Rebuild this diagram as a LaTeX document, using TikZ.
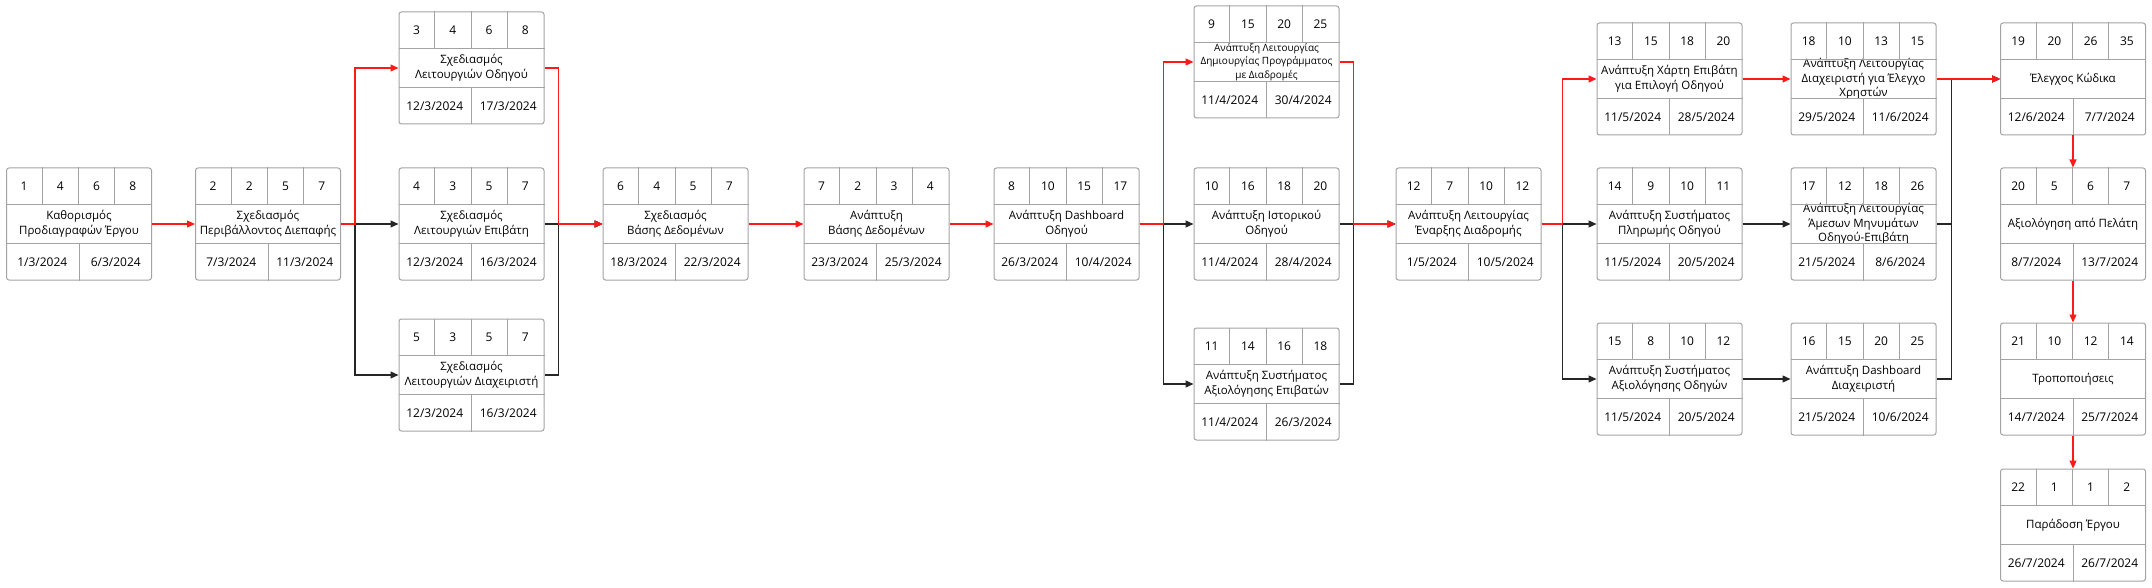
\documentclass[tikz,border=0pt]{standalone}
\usepackage{fontspec}
\setmainfont{Open Sans}
\usepackage{tikz}
\usepackage{xcolor}
\usetikzlibrary{arrows.meta}

\definecolor{cellgray}{HTML}{A3A3A3}
\definecolor{critred}{HTML}{FF1A1A}

\newcommand{\pertbox}[7][]{%
  \node[taskbox,#1] (#2) at (#3) {#5};
  \draw[cellline] ([yshift=-37.3pt]#2.north west) -- ([yshift=-37.3pt]#2.north east);
  \draw[cellline] ([yshift=37.3pt]#2.south west) -- ([yshift=37.3pt]#2.south east);
  \foreach \k in {1,2,3}
    \draw[cellline] ([xshift=\k*36.25pt]#2.north west) -- ([xshift=\k*36.25pt,yshift=-37.3pt]#2.north west);
  \draw[cellline] (#2.south) -- ([yshift=37.3pt]#2.south);
  \foreach \v [count=\k] in {#4}
    \node[celltext] (#2-\k) at ([xshift=\k*36.25pt-18.125pt,yshift=-18.65pt]#2.north west) {\v};
  \node[celltext] (#2-start) at ([xshift=36.25pt,yshift=18.65pt]#2.south west) {#6};
  \node[celltext] (#2-end) at ([xshift=-36.25pt,yshift=18.65pt]#2.south east) {#7};
}

\begin{document}
\begin{tikzpicture}[
    x=1pt, y=-1pt,
    taskbox/.style={
        rectangle,
        draw=cellgray,
        line width=1pt,
        rounded corners=2.5pt,
        minimum width=145pt,
        minimum height=112pt,
        inner sep=0pt,
        align=center,
        font=\fontsize{11.5}{15}\selectfont
    },
    cellline/.style={draw=cellgray, line width=0.9pt},
    celltext/.style={inner sep=0pt, font=\fontsize{12}{14}\selectfont},
    flowarrow/.style={line width=1.2pt, draw=black!85, -{Triangle[length=8pt,width=7pt]}},
    critarrow/.style={flowarrow, draw=critred}
]
\useasboundingbox (0,0) rectangle (2152,588);
\pertbox{spec}{79,224}{1,4,6,8}{Καθορισμός\\Προδιαγραφών Έργου}{1/3/2024}{6/3/2024}
\pertbox{uidesign}{268,224}{2,2,5,7}{Σχεδιασμός\\Περιβάλλοντος Διεπαφής}{7/3/2024}{11/3/2024}
\pertbox{drvdesign}{471.5,68}{3,4,6,8}{Σχεδιασμός\\Λειτουργιών Οδηγού}{12/3/2024}{17/3/2024}
\pertbox{paxdesign}{471.5,224}{4,3,5,7}{Σχεδιασμός\\Λειτουργιών Επιβάτη}{12/3/2024}{16/3/2024}
\pertbox{admdesign}{471.5,375}{5,3,5,7}{Σχεδιασμός\\Λειτουργιών Διαχειριστή}{12/3/2024}{16/3/2024}
\pertbox{dbdesign}{675.5,224}{6,4,5,7}{Σχεδιασμός\\Βάσης Δεδομένων}{18/3/2024}{22/3/2024}
\pertbox{dbdev}{876.5,224}{7,2,3,4}{Ανάπτυξη\\Βάσης Δεδομένων}{23/3/2024}{25/3/2024}
\pertbox{drvdash}{1066.5,224}{8,10,15,17}{Ανάπτυξη Dashboard\\Οδηγού}{26/3/2024}{10/4/2024}
\pertbox[font=\fontsize{10}{13.5}\selectfont]{routeplan}{1266.5,62}{9,15,20,25}{Ανάπτυξη Λειτουργίας\\Δημιουργίας Προγράμματος\\με Διαδρομές}{11/4/2024}{30/4/2024}
\pertbox{drvhistory}{1266.5,224}{10,16,18,20}{Ανάπτυξη Ιστορικού\\Οδηγού}{11/4/2024}{28/4/2024}
\pertbox{paxrating}{1266.5,384}{11,14,16,18}{Ανάπτυξη Συστήματος\\Αξιολόγησης Επιβατών}{11/4/2024}{26/3/2024}
\pertbox{tripstart}{1468.5,224}{12,7,10,12}{Ανάπτυξη Λειτουργίας\\Έναρξης Διαδρομής}{1/5/2024}{10/5/2024}
\pertbox{paxmap}{1669.5,79}{13,15,18,20}{Ανάπτυξη Χάρτη Επιβάτη\\για Επιλογή Οδηγού}{11/5/2024}{28/5/2024}
\pertbox{drvpay}{1669.5,224}{14,9,10,11}{Ανάπτυξη Συστήματος\\Πληρωμής Οδηγού}{11/5/2024}{20/5/2024}
\pertbox{drvrating}{1669.5,379}{15,8,10,12}{Ανάπτυξη Συστήματος\\Αξιολόγησης Οδηγών}{11/5/2024}{20/5/2024}
\pertbox[font=\fontsize{11.5}{14.5}\selectfont]{admctrl}{1863.5,79}{18,10,13,15}{Ανάπτυξη Λειτουργίας\\Διαχειριστή για Έλεγχο\\Χρηστών}{29/5/2024}{11/6/2024}
\pertbox[font=\fontsize{11.5}{14.5}\selectfont]{chat}{1863.5,224}{17,12,18,26}{Ανάπτυξη Λειτουργίας\\Άμεσων Μηνυμάτων\\Οδηγού-Επιβάτη}{21/5/2024}{8/6/2024}
\pertbox{admdash}{1863.5,379}{16,15,20,25}{Ανάπτυξη Dashboard\\Διαχειριστή}{21/5/2024}{10/6/2024}
\pertbox{codereview}{2073,79}{19,20,26,35}{Έλεγχος Κώδικα}{12/6/2024}{7/7/2024}
\pertbox{clientreview}{2073,224}{20,5,6,7}{Αξιολόγηση από Πελάτη}{8/7/2024}{13/7/2024}
\pertbox{changes}{2073,379}{21,10,12,14}{Τροποποιήσεις}{14/7/2024}{25/7/2024}
\pertbox{delivery}{2073,525}{22,1,1,2}{Παράδοση Έργου}{26/7/2024}{26/7/2024}
\draw [flowarrow] (uidesign.east) -- (paxdesign.west);
\draw [flowarrow] (uidesign.east) -- ++(14,0) |- (admdesign.west);
\draw [flowarrow] (paxdesign.east) -- (dbdesign.west);
\draw [flowarrow] (admdesign.east) -- ++(14,0) |- (dbdesign.west);
\draw [flowarrow] (drvdash.east) -- (drvhistory.west);
\draw [flowarrow] (drvdash.east) -- ++(24,0) |- (paxrating.west);
\draw [flowarrow] (drvhistory.east) -- (tripstart.west);
\draw [flowarrow] (paxrating.east) -- ++(14,0) |- (tripstart.west);
\draw [flowarrow] (tripstart.east) -- (drvpay.west);
\draw [flowarrow] (tripstart.east) -- ++(21,0) |- (drvrating.west);
\draw [flowarrow] (drvpay.east) -- (chat.west);
\draw [flowarrow] (drvrating.east) -- (admdash.west);
\draw [flowarrow] (chat.east) -- ++(15,0) |- (codereview.west);
\draw [flowarrow] (admdash.east) -- ++(15,0) |- (codereview.west);
\draw [critarrow] (spec.east) -- (uidesign.west);
\draw [critarrow] (uidesign.east) -- ++(14,0) |- (drvdesign.west);
\draw [critarrow] (drvdesign.east) -- ++(14,0) |- (dbdesign.west);
\draw [critarrow] (dbdesign.east) -- (dbdev.west);
\draw [critarrow] (dbdev.east) -- (drvdash.west);
\draw [critarrow] (drvdash.east) -- ++(24,0) |- (routeplan.west);
\draw [critarrow] (routeplan.east) -- ++(14,0) |- (tripstart.west);
\draw [critarrow] (tripstart.east) -- ++(21,0) |- (paxmap.west);
\draw [critarrow] (paxmap.east) -- (admctrl.west);
\draw [critarrow] (admctrl.east) -- (codereview.west);
\draw [critarrow] (codereview.south) -- (clientreview.north);
\draw [critarrow] (clientreview.south) -- (changes.north);
\draw [critarrow] (changes.south) -- (delivery.north);
\end{tikzpicture}
\end{document}
